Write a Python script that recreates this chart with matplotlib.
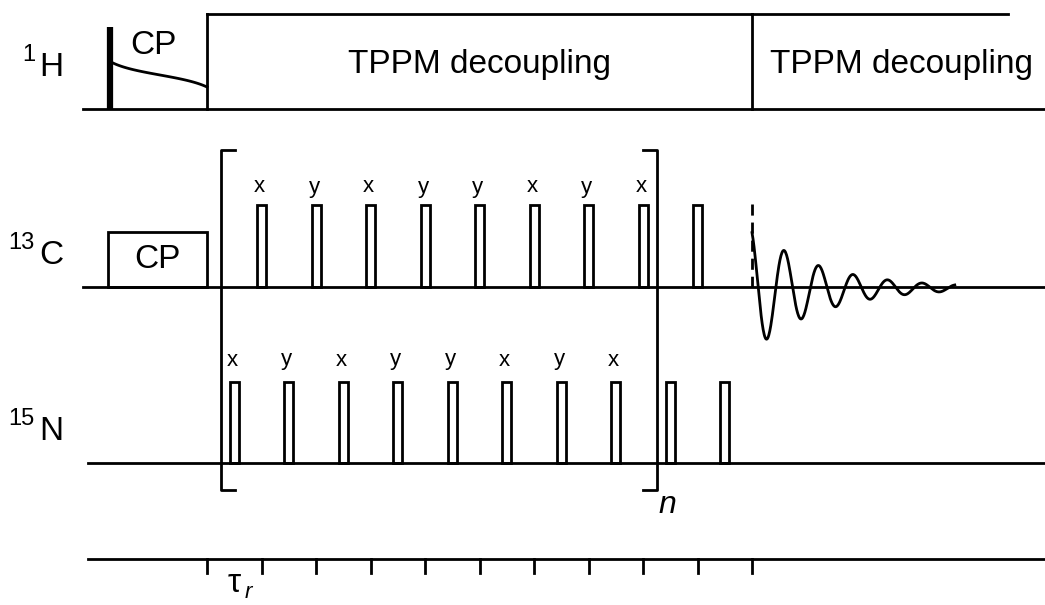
import numpy as np
import matplotlib.pyplot as plt
from matplotlib.patches import Rectangle

plt.rcParams['font.family'] = ['Liberation Sans', 'DejaVu Sans']

# timing in rotor periods (tau_r), t = 0 at the end of cross polarisation
rotor_ticks = list(range(0, 11))
c_pulse_times = [1, 2, 3, 4, 5, 6, 7, 8, 9]
c_phases = ['x', 'y', 'x', 'y', 'y', 'x', 'y', 'x', '']
n_pulse_times = [0.5, 1.5, 2.5, 3.5, 4.5, 5.5, 6.5, 7.5, 8.5, 9.5]
n_phases = ['x', 'y', 'x', 'y', 'y', 'x', 'y', 'x', '', '']
cp_start = -1.82
decoupling_blocks = [(0, 10), (10, 14.7)]
block_labels = ['TPPM decoupling', 'TPPM decoupling']
bracket_span = (0.25, 8.25)
acq_start, acq_end = 10, 13.72
channel_labels = [('1', 'H'), ('13', 'C'), ('15', 'N')]

# layout (pixels)
X0, TAU = 207, 54.5
Y_H, Y_C, Y_N, Y_T = 109, 287, 463, 559
LW = 2.0


def tx(t):
    return X0 + TAU * t


fig = plt.figure(figsize=(10.45, 6.05), dpi=100)
ax = fig.add_axes([0, 0, 1, 1])
ax.set_xlim(0, 1045)
ax.set_ylim(605, 0)
ax.axis('off')

# baselines
ax.plot([83, 1045], [Y_H, Y_H], color='black', lw=LW)
ax.plot([83, 1045], [Y_C, Y_C], color='black', lw=LW)
ax.plot([88, 1045], [Y_N, Y_N], color='black', lw=LW)
ax.plot([88, 1045], [Y_T, Y_T], color='black', lw=LW)

# channel labels
for (iso, el), yb in zip(channel_labels, [76, 264, 440]):
    ax.text(39, yb, el, fontsize=24, ha='left', va='baseline')
    ax.text(35, yb - 15, iso, fontsize=17, ha='right', va='baseline')

# 1H: 90 pulse, CP ramp, decoupling
ax.plot([110, 110], [27, Y_H], color='black', lw=4.5, solid_capstyle='butt')
u = np.linspace(0, 1, 60)
a = 0.9
ramp = 0.5 + 0.5 * np.tan(a * (2 * u - 1)) / np.tan(a)
ax.plot(113 + (tx(0) - 113) * u, 63 + (87 - 63) * ramp, color='black', lw=LW)
ax.text(153, 45, 'CP', fontsize=24, ha='center', va='center')
for (t0, t1), lab in zip(decoupling_blocks, block_labels):
    ax.plot([tx(t0), tx(t0)], [Y_H, 14], color='black', lw=LW)
    ax.plot([tx(t0), tx(t1)], [14, 14], color='black', lw=LW)
    xc = (tx(t0) + min(tx(t1), 1045)) / 2 if t0 == 0 else (tx(t0) + 1045) / 2 + 3
    ax.text(xc, 64, lab, fontsize=24, ha='center', va='center')

# 13C: CP block
ax.add_patch(Rectangle((tx(cp_start), 232), tx(0) - tx(cp_start), Y_C - 232,
                       fill=False, edgecolor='black', lw=LW))
ax.text((tx(cp_start) + tx(0)) / 2, 260, 'CP', fontsize=24, ha='center', va='center')

PW = 9
for t, ph in zip(c_pulse_times, c_phases):
    ax.add_patch(Rectangle((tx(t) - PW / 2, 205), PW, Y_C - 205,
                           fill=False, edgecolor='black', lw=LW))
    if ph:
        ax.text(tx(t) - 2, 187, ph, fontsize=16, ha='center', va='center')

for t, ph in zip(n_pulse_times, n_phases):
    ax.add_patch(Rectangle((tx(t) - PW / 2, 382), PW, Y_N - 382,
                           fill=False, edgecolor='black', lw=LW))
    if ph:
        ax.text(tx(t) - 2, 360, ph, fontsize=16, ha='center', va='center')

# bracket around the repeated block
bl, br = tx(bracket_span[0]), tx(bracket_span[1])
ax.plot([bl + 14, bl, bl, bl + 14], [150, 150, 490, 490], color='black', lw=LW)
ax.plot([br - 14, br, br, br - 14], [150, 150, 490, 490], color='black', lw=LW)
ax.text(br + 2, 505, 'n', fontsize=23, style='italic', ha='left', va='center')

# acquisition: dashed marker and FID
ax.plot([tx(acq_start)] * 2, [204, Y_C], color='black', lw=LW, ls=(0, (4, 2.5)))
xs = np.linspace(tx(acq_start), tx(acq_end), 400)
d = xs - tx(acq_start)
fid = 62 * np.exp(-d / 68) * np.cos(2 * np.pi * d / 34.5 + 0.41) - 2.5 * np.exp(-d / 200)
ax.plot(xs, Y_C - fid, color='black', lw=LW)

# rotor period ticks
for t in rotor_ticks:
    ax.plot([tx(t), tx(t)], [Y_T, 573], color='black', lw=LW)
ax.text(234, 583, '\u03c4', fontsize=24, ha='center', va='center')
ax.text(248, 592, 'r', fontsize=16, style='italic', ha='center', va='center')

fig.savefig('out.png', dpi=100)
